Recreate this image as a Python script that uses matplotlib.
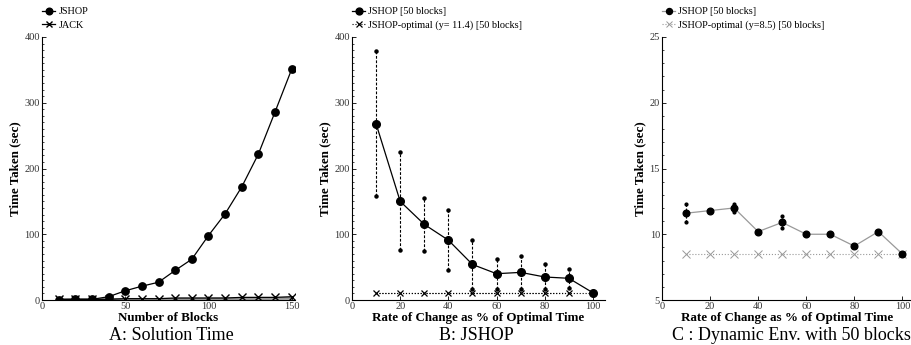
import matplotlib
matplotlib.use("Agg")
import matplotlib.pyplot as plt
from matplotlib.ticker import MultipleLocator

plt.rcParams['font.family'] = ['Liberation Serif', 'DejaVu Serif']

# Panel A data
blocks = [10, 20, 30, 40, 50, 60, 70, 80, 90, 100, 110, 120, 130, 140, 150]
jshop_a = [0.5, 1, 1, 5, 14, 21, 27, 45, 62, 98, 131, 172, 222, 286, 351]
jack_a = [1, 1, 1, 1, 2, 2, 2, 3, 3, 3, 3, 4, 4, 4, 5]
jack_band = [0.5, 0.5, 0.5, 0.8, 1, 1, 1, 1.2, 1.4, 1.5, 1.6, 1.8, 2, 2.2, 2.5]

# Panel B data
rate = [10, 20, 30, 40, 50, 60, 70, 80, 90, 100]
jshop_b = [268, 150, 115, 91, 54, 40, 42, 35, 33, 11]
jshop_b_hi = [378, 225, 155, 137, 92, 63, 67, 54, 47, 11]
jshop_b_lo = [158, 76, 74, 45, 16, 16, 17, 16, 18, 11]
opt_b_x = [10, 20, 30, 40, 50, 60, 70, 80, 90]
opt_b = 11.4

# Panel C data
jshop_c = [11.6, 11.8, 12.0, 10.2, 10.9, 10.0, 10.0, 9.1, 10.2, 8.5]
err_c_x = [10, 30, 50]
err_c_hi = [12.3, 12.3, 11.4]
err_c_lo = [10.9, 11.7, 10.5]
opt_c = 8.5

fig = plt.figure(figsize=(9.12, 3.45), dpi=100)

bottom = 1 - 300/345
height = (300 - 37)/345
axA = fig.add_axes([42/912, bottom, 253/912, height])
axB = fig.add_axes([352/912, bottom, 253/912, height])
axC = fig.add_axes([662/912, bottom, 250/912, height])

tick_fs = 7.5
lab_fs = 9.4
leg_fs = 7.4
cap_fs = 13

def style(ax):
    for s in ['top', 'right']:
        ax.spines[s].set_visible(False)
    ax.tick_params(direction='in', labelsize=tick_fs, length=3, width=0.6, pad=1.5)
    ax.tick_params(which='minor', direction='in', length=1.5, width=0.5)
    ax.spines['left'].set_linewidth(0.8)
    ax.spines['bottom'].set_linewidth(0.8)
    for t in ax.get_xticklabels() + ax.get_yticklabels():
        t.set_color('#333333')

# Panel A
axA.plot(blocks, jack_band, color='#999999', lw=2, zorder=1)
lA1, = axA.plot(blocks, jshop_a, color='black', marker='o', ms=5.3, lw=0.9, label='JSHOP', zorder=3)
lA2, = axA.plot(blocks, jack_a, color='black', marker='x', ms=5.5, mew=1, lw=0.9, label='JACK', zorder=2)
axA.set_xlim(0, 152)
axA.set_ylim(0, 400)
axA.set_xticks([0, 50, 100, 150])
axA.set_yticks([0, 100, 200, 300, 400])
axA.yaxis.set_minor_locator(MultipleLocator(10))
axA.set_xlabel('Number of Blocks', fontsize=lab_fs, fontweight='bold', labelpad=0.5)
axA.set_ylabel('Time Taken (sec)', fontsize=lab_fs, fontweight='bold', labelpad=2)
style(axA)

# Panel B
for x, hi, lo in zip(rate[:-1], jshop_b_hi[:-1], jshop_b_lo[:-1]):
    axB.plot([x, x], [lo, hi], color='black', ls=(0, (2.5, 1.5)), lw=0.8, zorder=1)
    axB.plot([x, x], [lo, hi], ls='none', marker='o', ms=2.2, color='black', zorder=1)
axB.plot(rate, [opt_b]*len(rate), color='black', ls=':', lw=0.8, zorder=2)
lB2, = axB.plot(opt_b_x, [opt_b]*len(opt_b_x), color='black', marker='x', ms=5, mew=0.9,
                ls=':', lw=0.8, label='JSHOP-optimal (y= 11.4) [50 blocks]', zorder=2)
lB1, = axB.plot(rate, jshop_b, color='black', marker='o', ms=5.5, lw=0.9,
                label='JSHOP [50 blocks]', zorder=3)
axB.set_xlim(0, 105)
axB.set_ylim(0, 400)
axB.set_xticks([0, 20, 40, 60, 80, 100])
axB.set_yticks([0, 100, 200, 300, 400])
axB.yaxis.set_minor_locator(MultipleLocator(10))
axB.set_xlabel('Rate of Change as % of Optimal Time', fontsize=lab_fs, fontweight='bold', labelpad=0.5)
axB.set_ylabel('Time Taken (sec)', fontsize=lab_fs, fontweight='bold', labelpad=2)
style(axB)

# Panel C
for x, hi, lo in zip(err_c_x, err_c_hi, err_c_lo):
    axC.plot([x, x], [lo, hi], color='black', ls=(0, (2, 1.5)), lw=0.8, zorder=1)
    axC.plot([x, x], [lo, hi], ls='none', marker='o', ms=2, color='black', zorder=1)
lC2, = axC.plot(rate, [opt_c]*len(rate), color='#999999', marker='x', ms=5.5, mew=0.7,
                ls=':', lw=0.8, label='JSHOP-optimal (y=8.5) [50 blocks]', zorder=2)
axC.plot(rate, jshop_c, color='#999999', lw=0.9, zorder=2)
axC.plot(rate, jshop_c, color='black', marker='o', ms=4.8, ls='none', zorder=3)
lC1h, = axC.plot([], [], color='#999999', marker='o', mfc='black', mec='black', ms=4.8, lw=0.9,
                 label='JSHOP [50 blocks]')
axC.set_xlim(0, 104)
axC.set_ylim(5, 25)
axC.set_xticks([0, 20, 40, 60, 80, 100])
axC.set_yticks([5, 10, 15, 20, 25])
axC.yaxis.set_minor_locator(MultipleLocator(1))
axC.set_xlabel('Rate of Change as % of Optimal Time', fontsize=lab_fs, fontweight='bold', labelpad=0.5)
axC.set_ylabel('Time Taken (sec)', fontsize=lab_fs, fontweight='bold', labelpad=2)
style(axC)

# Legends above axes
def legend(handles, x_px):
    fig.legend(handles=handles, loc='upper left',
               bbox_to_anchor=(x_px/912, 1 - 7/345), frameon=False,
               fontsize=leg_fs, handlelength=1.3, handletextpad=0.3,
               borderpad=0, labelspacing=0.4, markerscale=0.9,
               borderaxespad=0)

legend([lA1, lA2], 42)
legend([lB1, lB2], 352)
legend([lC1h, lC2], 662)

# Captions
fig.text(171/912, 1 - 340/345, 'A: Solution Time', fontsize=cap_fs, ha='center', va='baseline')
fig.text(476/912, 1 - 340/345, 'B: JSHOP', fontsize=cap_fs, ha='center', va='baseline')
fig.text(791/912, 1 - 340/345, 'C : Dynamic Env. with 50 blocks', fontsize=cap_fs, ha='center', va='baseline')

fig.savefig('out.png', dpi=100)
